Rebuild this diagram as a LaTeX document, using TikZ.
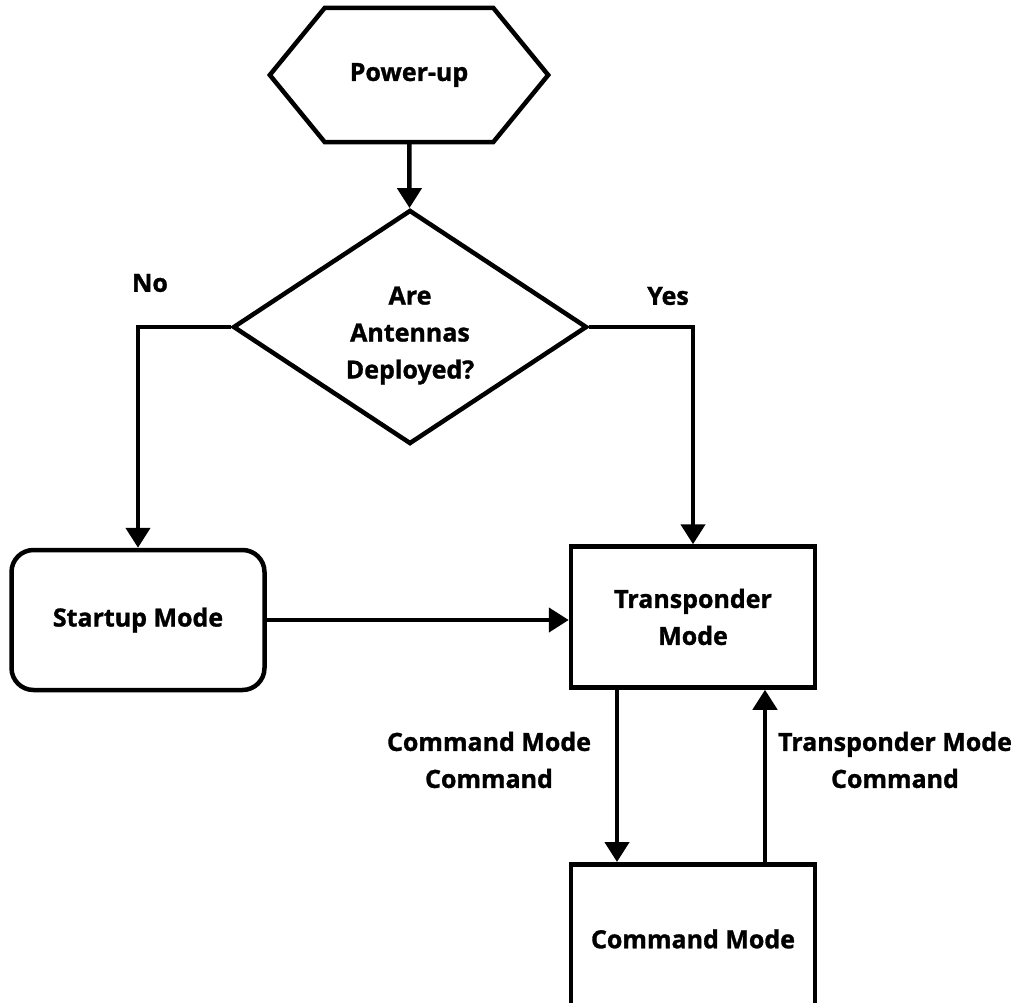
\documentclass[tikz,border=0pt]{standalone}
\usepackage{fontspec}
\setmainfont{Open Sans}[BoldFeatures={FakeBold=1.2}]
\usetikzlibrary{arrows.meta,shapes.geometric,calc}

\tikzset{
  lbl/.style={font=\bfseries\fontsize{25}{37}\selectfont, align=center, inner sep=0pt},
  box/.style={lbl, draw, line width=4.5pt, minimum width=244pt},
  flow/.style={line width=4.5pt, -{Triangle[width=24pt,length=20pt]}},
}

\begin{document}
\begin{tikzpicture}[x=1pt,y=-1pt]
  \useasboundingbox (0,0) rectangle (1015,1002);
  \clip (0,0) rectangle (1015,1002);

  % start terminal (hexagon)
  \node[lbl, minimum width=168pt, minimum height=134pt] (power) at (409,75) {Power-up};
  \draw[line width=4.5pt, line join=miter]
    (power.north west) -- (power.north east) -- ($(power.east)+(55,0)$)
    -- (power.south east) -- (power.south west) -- ($(power.west)+(-55,0)$) -- cycle;

  % decision
  \node[lbl, draw, line width=4.5pt, shape=diamond, aspect=1.5,
        minimum width=354pt, minimum height=234pt] (dec) at (410,327)
        {\\[-2pt]Are\\Antennas\\Deployed?};

  % modes
  \node[box, rounded corners=22pt, minimum width=253pt, minimum height=140pt] (startup) at (138,620) {Startup Mode};
  \node[box, minimum height=141pt] (trans) at (693,617) {Transponder\\Mode};
  \node[box, anchor=north, text height=84pt, text depth=200pt, inner ysep=0pt] (cmd) at (693,862) {Command Mode};

  % connectors
  \draw[flow] (power) -- (dec);
  \draw[flow] (dec.west) -| (startup.north);
  \draw[flow] (dec.east) -| (trans.north);
  \draw[flow] (startup) -- (startup -| trans.west);
  \draw[flow] ([xshift=-76pt]trans.south) -- ([xshift=-76pt]cmd.north);
  \draw[flow] ([xshift=72pt]cmd.north) -- ([xshift=72pt]trans.south);

  % labels
  \node[lbl] (no) at (150,283) {No};
  \node[lbl] (yes) at (668,296) {Yes};
  \node[lbl] (tocmd) at (489,760) {Command Mode\\Command};
  \node[lbl] (totrans) at (895,760) {Transponder Mode\\Command};
\end{tikzpicture}
\end{document}
